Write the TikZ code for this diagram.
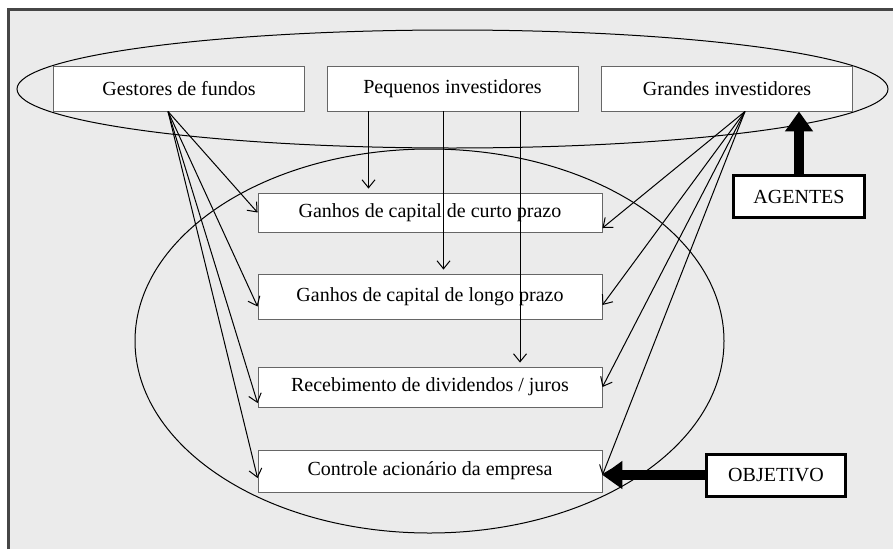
\documentclass[tikz,border=0pt]{standalone}
\usepackage{fontspec}
\setmainfont{Liberation Serif}
\usepackage{tikz}
\usetikzlibrary{positioning,shapes,calc,arrows.meta}
\definecolor{fundo}{RGB}{235,235,235}
\definecolor{moldura}{RGB}{70,70,70}

\begin{document}
\begin{tikzpicture}[x=1pt,y=-1pt,
           caixa/.style={draw=black!60, fill=white, line width=0.9pt, inner sep=0pt, font=\fontsize{20}{24}\selectfont},
           agente/.style={caixa, minimum width=251pt, minimum height=45pt},
           meta/.style={caixa, minimum width=344pt},
           rotulo/.style={draw=black, fill=white, line width=3pt, inner sep=0pt, minimum height=42pt, font=\fontsize{20}{24}\selectfont},
           seta/.style={-{Straight Barb[length=8pt,width=13pt]}, line width=1pt},
           setagrossa/.style={-{Triangle[length=20pt,width=27pt]}, line width=10pt}]
           \useasboundingbox (0,0) rectangle (893,549);
           \fill[white] (0,0) rectangle (893,549);
           \fill[fundo] (9,10) rectangle (893,549);
           \draw[moldura, line width=3pt] (8.5,549) -- (8.5,9.5) -- (893,9.5);
           \draw[line width=1pt] (452.5,89) ellipse [x radius=435.5pt, y radius=59pt];
           \draw[line width=1pt] (429.5,341) ellipse [x radius=294.5pt, y radius=192pt];
           \node[agente] (gestores) at (179,88.5) {Gestores de fundos};
           \node[agente] (pequenos) at (452.5,88.5) {Pequenos investidores};
           \node[agente] (grandes) at (727,88.5) {Grandes investidores};
           \node[meta, minimum height=39pt] (curto) at (430,212.5) {Ganhos de capital de curto prazo};
           \node[meta, minimum height=45pt] (longo) at (430,296.5) {Ganhos de capital de longo prazo};
           \node[meta, minimum height=40pt] (receb) at (430,387) {Recebimento de dividendos / juros};
           \node[meta, minimum height=42pt] (controle) at (430,471) {Controle acionário da empresa};
           \node[rotulo, minimum width=131pt] (agentes) at (799,196.5) {AGENTES};
           \node[rotulo, minimum width=139pt] (objetivo) at (776,475) {OBJETIVO};
           \draw[seta] ([xshift=-11pt]gestores.south) -- (curto.west);
           \draw[seta] ([xshift=-11pt]gestores.south) -- ([yshift=-10pt]longo.west);
           \draw[seta] ([xshift=-11pt]gestores.south) -- ([yshift=-16pt]receb.west);
           \draw[seta] ([xshift=-11pt]gestores.south) -- ([yshift=-7pt]controle.west);
           \draw[seta, shorten >=4pt] ([xshift=-84pt]pequenos.south) coordinate (p1) -- (p1 |- curto.north);
           \draw[seta, shorten >=4pt] ([xshift=-9pt]pequenos.south) coordinate (p2) -- (p2 |- longo.north);
           \draw[seta, shorten >=4pt] ([xshift=67.5pt]pequenos.south) coordinate (p3) -- (p3 |- receb.north);
           \draw[seta] ([xshift=18pt]grandes.south) -- ([yshift=-15.5pt]curto.east);
           \draw[seta] ([xshift=18pt]grandes.south) -- ([yshift=-8.5pt]longo.east);
           \draw[seta] ([xshift=18pt]grandes.south) -- (receb.east);
           \draw[seta] ([xshift=18pt]grandes.south) -- ([yshift=-4pt]controle.east);
           \draw[setagrossa] (agentes.north) -- (agentes.north |- grandes.south);
           \draw[setagrossa] (objetivo.west) -- (controle.east |- objetivo.west);
         \end{tikzpicture}
\end{document}
